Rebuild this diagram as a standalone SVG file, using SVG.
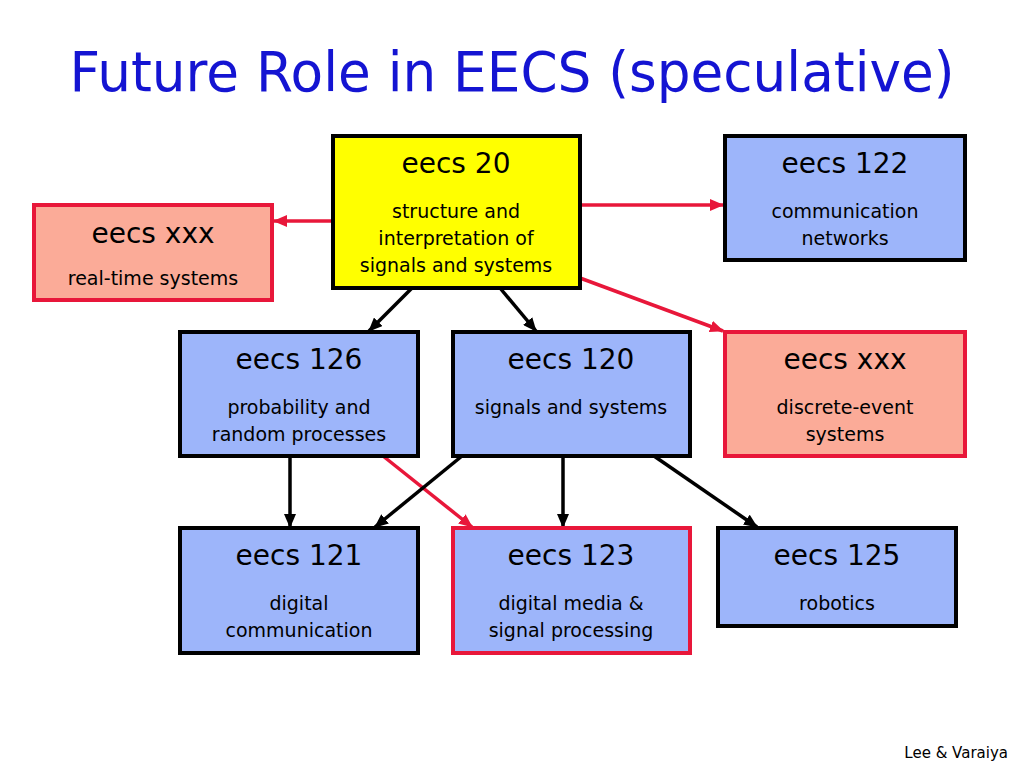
<svg xmlns="http://www.w3.org/2000/svg" width="1024" height="768" viewBox="0 0 1024 768">
<defs>
<marker id="ab" markerWidth="14" markerHeight="12" refX="13" refY="6" orient="auto" markerUnits="userSpaceOnUse" viewBox="0 0 14 12"><path d="M0,0 L14,6 L0,12 z" fill="#000"/></marker>
<marker id="ar" markerWidth="14" markerHeight="12" refX="13" refY="6" orient="auto" markerUnits="userSpaceOnUse" viewBox="0 0 14 12"><path d="M0,0 L14,6 L0,12 z" fill="#e8173a"/></marker>
<style>
text{font-family:"DejaVu Sans","Noto Sans",sans-serif;text-anchor:middle;fill:#000}
.title{font-size:56px;fill:#1414d2}
.h{font-size:28px}
.s{font-size:19px}
.blue{fill:#9db5fa;stroke:#000;stroke-width:4}
.yel{fill:#ffff00;stroke:#000;stroke-width:4}
.pink{fill:#fbab98;stroke:#e8173a;stroke-width:4}
.bred{fill:#9db5fa;stroke:#e8173a;stroke-width:4}
.cb{stroke:#000;stroke-width:3.5;fill:none;marker-end:url(#ab)}
.cr{stroke:#e8173a;stroke-width:3.5;fill:none;marker-end:url(#ar)}
</style>
</defs>
<rect width="1024" height="768" fill="#fff"/>
<text class="title" x="512" y="91" textLength="885" lengthAdjust="spacingAndGlyphs">Future Role in EECS (speculative)</text>
<g id="connectors">
<line class="cr" x1="333" y1="221" x2="274" y2="221"/>
<line class="cr" x1="580" y1="205" x2="723" y2="205"/>
<line class="cr" x1="580" y1="278" x2="723" y2="331"/>
<line class="cb" x1="412" y1="288" x2="369" y2="331"/>
<line class="cb" x1="500" y1="288" x2="536" y2="331"/>
<line class="cb" x1="290" y1="456" x2="290" y2="527"/>
<line class="cr" x1="383" y1="456" x2="472" y2="527"/>
<line class="cb" x1="462" y1="456" x2="375" y2="527"/>
<line class="cb" x1="563" y1="456" x2="563" y2="527"/>
<line class="cb" x1="654" y1="456" x2="757" y2="527"/>
</g>
<g id="n20"><rect class="yel" x="333" y="136" width="247" height="152"/>
<text class="h" x="456" y="173">eecs 20</text>
<text class="s" x="456" y="218">structure and</text>
<text class="s" x="456" y="245">interpretation of</text>
<text class="s" x="456" y="272">signals and systems</text></g>
<g id="n122"><rect class="blue" x="725" y="136" width="240" height="124"/>
<text class="h" x="845" y="173">eecs 122</text>
<text class="s" x="845" y="218">communication</text>
<text class="s" x="845" y="245">networks</text></g>
<g id="nxxx1"><rect class="pink" x="34" y="205" width="238" height="95"/>
<text class="h" x="153" y="243">eecs xxx</text>
<text class="s" x="153" y="285">real-time systems</text></g>
<g id="n126"><rect class="blue" x="180" y="332" width="238" height="124"/>
<text class="h" x="299" y="369">eecs 126</text>
<text class="s" x="299" y="414">probability and</text>
<text class="s" x="299" y="441">random processes</text></g>
<g id="n120"><rect class="blue" x="453" y="332" width="237" height="124"/>
<text class="h" x="571" y="369">eecs 120</text>
<text class="s" x="571" y="414">signals and systems</text></g>
<g id="nxxx2"><rect class="pink" x="725" y="332" width="240" height="124"/>
<text class="h" x="845" y="369">eecs xxx</text>
<text class="s" x="845" y="414">discrete-event</text>
<text class="s" x="845" y="441">systems</text></g>
<g id="n121"><rect class="blue" x="180" y="528" width="238" height="125"/>
<text class="h" x="299" y="565">eecs 121</text>
<text class="s" x="299" y="610">digital</text>
<text class="s" x="299" y="637">communication</text></g>
<g id="n123"><rect class="bred" x="453" y="528" width="237" height="125"/>
<text class="h" x="571" y="565">eecs 123</text>
<text class="s" x="571" y="610">digital media &amp;</text>
<text class="s" x="571" y="637">signal processing</text></g>
<g id="n125"><rect class="blue" x="718" y="528" width="238" height="98"/>
<text class="h" x="837" y="565">eecs 125</text>
<text class="s" x="837" y="610">robotics</text></g>
<text x="1008" y="758" style="font-size:15px;text-anchor:end">Lee &amp; Varaiya</text>
</svg>
